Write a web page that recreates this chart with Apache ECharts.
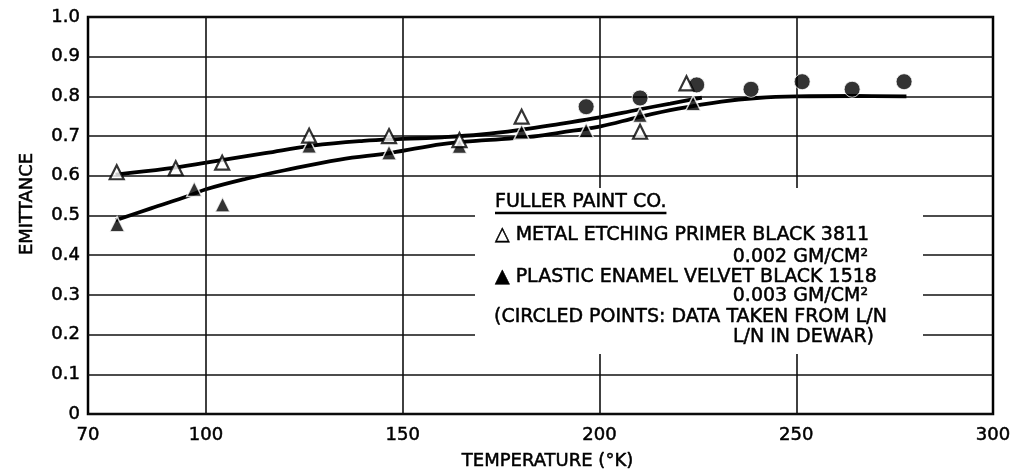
<!DOCTYPE html>
<html><head><meta charset="utf-8">
<script src="https://cdn.jsdelivr.net/npm/echarts@6/dist/echarts.min.js"></script>
<style>html,body{margin:0;padding:0;background:#fff}#c{width:1024px;height:476px}</style>
</head><body><div id="c"></div>
<script>
// ---- data ----
const xTickLabels = [70, 100, 150, 200, 250, 300];
const xGridValues = [100, 150, 200, 250];

// Metal etching primer black 3811 (open triangles)
const openTriangles = [
  [77.3, 0.609], [92.3, 0.619], [104.1, 0.633], [126.2, 0.701], [146.5, 0.700],
  [164.4, 0.690], [180.2, 0.749], [210.3, 0.711], [222.1, 0.833]
];
// Plastic enamel velvet black 1518 (filled triangles)
const filledTriangles = [
  [77.4, 0.478], [97.0, 0.567], [104.2, 0.528], [126.2, 0.676], [146.5, 0.659],
  [164.4, 0.675], [180.2, 0.711], [196.6, 0.715], [210.3, 0.753], [223.8, 0.783]
];
// Circled points (data taken from L/N, L/N in dewar)
const circledPoints = [
  [196.6, 0.774], [210.3, 0.796], [224.7, 0.829], [238.5, 0.818],
  [251.5, 0.837], [264.2, 0.818], [277.4, 0.837]
];
// Faired curves
const curveOpen = [
  [77, 0.603], [90, 0.618], [100, 0.633], [115, 0.657], [127, 0.676], [140, 0.688],
  [150, 0.693], [160, 0.697], [170, 0.704], [180, 0.716], [190, 0.731], [200, 0.747],
  [210, 0.767], [218, 0.782], [226, 0.797]
];
const curveFilled = [
  [77, 0.488], [86, 0.518], [96, 0.551], [100, 0.566], [110, 0.592], [120, 0.614],
  [134, 0.641], [147, 0.658], [160, 0.680], [170, 0.689], [182, 0.698], [190, 0.709],
  [200, 0.724], [210, 0.748], [220, 0.769], [231, 0.787], [240, 0.796], [250, 0.800],
  [265, 0.801], [278, 0.800]
];
const legendTitle = 'FULLER PAINT CO.';
const legendLines = [
  '\u25B3 METAL ETCHING PRIMER BLACK 3811',
  '0.002 GM/CM\u00B2',
  '\u25B2 PLASTIC ENAMEL VELVET BLACK 1518',
  '0.003 GM/CM\u00B2',
  '(CIRCLED POINTS: DATA TAKEN FROM L/N',
  'L/N IN DEWAR)'
];
const xName = 'TEMPERATURE (\u00B0K)';
const yName = 'EMITTANCE';

// ---- chart ----
const FONT = 'DejaVu Sans';
const legendFont = '19px "' + FONT + '"';
const mctx = document.createElement('canvas').getContext('2d');
mctx.font = legendFont;
const titleW = mctx.measureText(legendTitle).width;

const chart = echarts.init(document.getElementById('c'), null, {renderer: 'canvas'});
const legendAlign = ['left', 'right', 'left', 'right', 'left', 'right'];
const legendX = [495, 868, 495, 868, 494, 874];
const legendY = [235, 257, 277, 296, 317, 337];
const txt = (text, x, y, align, extra) => Object.assign({
  type: 'text', z: 101,
  style: {text: text, x: x, y: y, font: legendFont, fill: '#000', stroke: '#000', lineWidth: 0.5,
          align: align, verticalAlign: 'middle'}
}, extra || {});
const graphics = [
  {type: 'rect', z: 100, shape: {x: 475, y: 188, width: 448, height: 166}, style: {fill: '#fff'}},
  txt(legendTitle, 495, 202, 'left'),
  {type: 'line', z: 101, shape: {x1: 495, y1: 213, x2: 495 + titleW, y2: 213}, style: {stroke: '#000', lineWidth: 2.5}}
];
legendLines.forEach((t, i) => graphics.push(txt(t, legendX[i], legendY[i], legendAlign[i])));
// y-axis title (rotated)
graphics.push({
  type: 'text', z: 101, x: 27, y: 204, rotation: Math.PI / 2,
  style: {text: yName, x: 0, y: 0, font: '18px "' + FONT + '"', fill: '#000', stroke: '#000', lineWidth: 0.5,
          align: 'center', verticalAlign: 'middle'}
});

const labelStyle = {fontFamily: FONT, fontSize: 18, color: '#000', textBorderColor: '#000', textBorderWidth: 0.5};

chart.setOption({
  animation: false,
  backgroundColor: '#fff',
  textStyle: {fontFamily: FONT},
  grid: {left: 88, right: 31, top: 17, bottom: 62, show: true, borderColor: '#000', borderWidth: 2.5, backgroundColor: 'transparent'},
  xAxis: {
    type: 'value', min: 70, max: 300, interval: 10,
    name: xName, nameLocation: 'middle', nameGap: 38,
    nameTextStyle: Object.assign({}, labelStyle, {padding: [0, 0, 0, 14]}),
    axisLine: {show: false}, axisTick: {show: false}, splitLine: {show: false},
    axisLabel: Object.assign({
      margin: 12,
      formatter: v => xTickLabels.indexOf(Math.round(v)) >= 0 ? String(Math.round(v)) : ''
    }, labelStyle)
  },
  yAxis: {
    type: 'value', min: 0, max: 1, interval: 0.1,
    axisLine: {show: false}, axisTick: {show: false},
    splitLine: {show: true, lineStyle: {color: '#111', width: 1.6}},
    axisLabel: Object.assign({margin: 8,
      formatter: v => v === 0 ? '0' : v.toFixed(1)}, labelStyle)
  },
  graphic: graphics,
  series: [
    {
      type: 'line', name: 'curveOpen', data: curveOpen, smooth: 0.4, symbol: 'none', z: 3,
      lineStyle: {color: '#000', width: 3.8},
      markLine: {
        silent: true, symbol: 'none', label: {show: false},
        lineStyle: {color: '#111', width: 1.6, type: 'solid'},
        data: xGridValues.map(v => ({xAxis: v}))
      }
    },
    {type: 'line', name: 'curveFilled', data: curveFilled, smooth: 0.4, symbol: 'none', z: 3,
      lineStyle: {color: '#000', width: 3.8}},
    {type: 'scatter', name: 'circled', data: circledPoints, symbol: 'circle', symbolSize: 16, z: 5,
      itemStyle: {color: '#000', borderColor: '#fff', borderWidth: 1}},
    {type: 'scatter', name: 'filled', data: filledTriangles, symbol: 'triangle', symbolSize: 15, z: 6,
      itemStyle: {color: '#000', borderColor: '#fff', borderWidth: 1.5}},
    {type: 'scatter', name: 'open', data: openTriangles, symbol: 'triangle', symbolSize: 14, z: 7,
      itemStyle: {color: '#fff', borderColor: '#000', borderWidth: 2.2}}
  ]
});
</script>
</body></html>
